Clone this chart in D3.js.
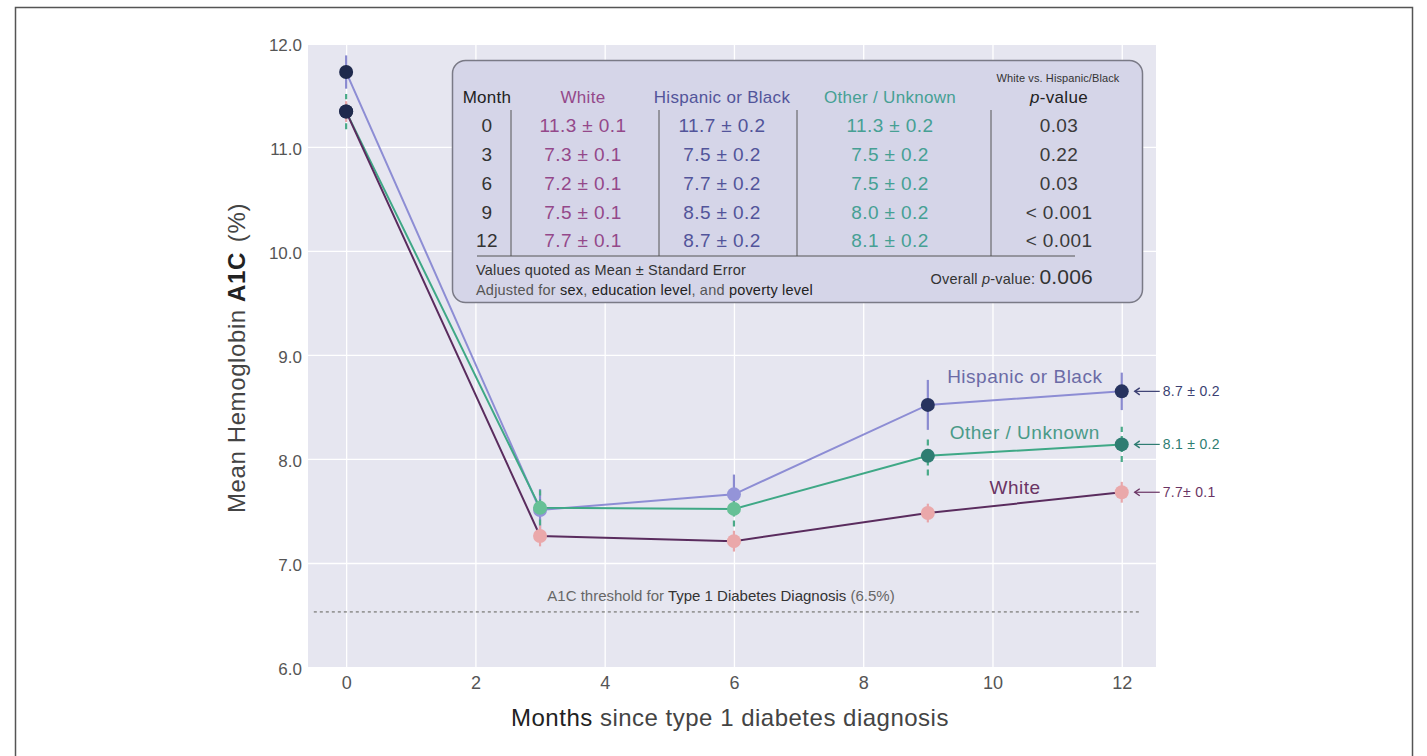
<!DOCTYPE html>
<html>
<head>
<meta charset="utf-8">
<script src="https://cdn.jsdelivr.net/npm/d3@7"></script>
<style>
  body { margin: 0; background: #fff; }
  svg { display: block; font-family: "Liberation Sans", Arial, sans-serif; }
</style>
</head>
<body>
<div id="chartContainer"></div>
<script>
// Data
const months = [0, 3, 6, 9, 12];
const whiteMean = [11.34, 7.26, 7.21, 7.48, 7.68];
const hispMean = [11.72, 7.51, 7.66, 8.52, 8.65];
const otherMean = [11.34, 7.53, 7.52, 8.03, 8.14];
const whiteErr = [0.1, 0.1, 0.1, 0.09, 0.1];
const hispErr = [0.16, 0.2, 0.19, 0.24, 0.18];
const otherErr = [0.17, 0.17, 0.17, 0.19, 0.17];
const threshold = 6.53;

const xTicks = [0, 2, 4, 6, 8, 10, 12];
const yTicks = [6, 7, 8, 9, 10, 11, 12];

// Table contents
const tableMonths = ["0", "3", "6", "9", "12"];
const tableWhite = ["11.3 ± 0.1", "7.3 ± 0.1", "7.2 ± 0.1", "7.5 ± 0.1", "7.7 ± 0.1"];
const tableHisp = ["11.7 ± 0.2", "7.5 ± 0.2", "7.7 ± 0.2", "8.5 ± 0.2", "8.7 ± 0.2"];
const tableOther = ["11.3 ± 0.2", "7.5 ± 0.2", "7.5 ± 0.2", "8.0 ± 0.2", "8.1 ± 0.2"];
const pValues = ["0.03", "0.22", "0.03", "< 0.001", "< 0.001"];
const overallP = "0.006";

const W = 1427, H = 756;

const svg = d3.select("#chartContainer")
    .append("svg")
    .attr("width", W)
    .attr("height", H);

// outer frame
svg.append("rect")
    .attr("x", 15.5).attr("y", 7.5)
    .attr("width", 1397).attr("height", 800)
    .attr("fill", "none")
    .attr("stroke", "#555")
    .attr("stroke-width", 1.5);

const x = d3.scaleLinear().domain([-0.59, 12.53]).range([308, 1156]);
const y = d3.scaleLinear().domain([6, 11.98]).range([667, 45]);

// plot background
svg.append("rect")
    .attr("x", x.range()[0]).attr("y", y.range()[1])
    .attr("width", x.range()[1] - x.range()[0])
    .attr("height", y.range()[0] - y.range()[1])
    .attr("fill", "#e6e6f0");

// gridlines
svg.append("g")
    .attr("transform", `translate(0,${y.range()[0]})`)
    .call(d3.axisBottom(x).tickValues(xTicks).tickSize(-(y.range()[0] - y.range()[1])).tickFormat(""))
    .call(g => g.select(".domain").remove())
    .call(g => g.selectAll(".tick line").attr("stroke", "#fff").attr("stroke-width", 1.3));

svg.append("g")
    .attr("transform", `translate(${x.range()[0]},0)`)
    .call(d3.axisLeft(y).tickValues(yTicks.filter(d => d < 11.98 && d > 6)).tickSize(-(x.range()[1] - x.range()[0])).tickFormat(""))
    .call(g => g.select(".domain").remove())
    .call(g => g.selectAll(".tick line").attr("stroke", "#fff").attr("stroke-width", 1.3));

// tick labels
svg.append("g")
    .attr("transform", `translate(${x.range()[0]},0)`)
    .call(d3.axisLeft(y).tickValues(yTicks).tickSize(0).tickPadding(6).tickFormat(d3.format(".1f")))
    .call(g => g.select(".domain").remove())
    .call(g => g.selectAll("text").attr("font-size", 17).attr("fill", "#555").attr("dy", "0.45em")
        .attr("font-family", "Liberation Sans, Arial, sans-serif"));

svg.append("g")
    .attr("transform", `translate(0,${y.range()[0]})`)
    .call(d3.axisBottom(x).tickValues(xTicks).tickSize(0).tickPadding(9))
    .call(g => g.select(".domain").remove())
    .call(g => g.selectAll("text").attr("font-size", 18).attr("fill", "#555")
        .attr("font-family", "Liberation Sans, Arial, sans-serif"));

// axis titles
const xTitle = svg.append("text")
    .attr("x", 730).attr("y", 726)
    .attr("text-anchor", "middle")
    .attr("font-size", 24)
    .attr("letter-spacing", 0.5)
    .attr("fill", "#444");
xTitle.append("tspan").attr("fill", "#222").text("Months");
xTitle.append("tspan").text(" since type 1 diabetes diagnosis");

const yTitle = svg.append("text")
    .attr("transform", "translate(245,358) rotate(-90)")
    .attr("text-anchor", "middle")
    .attr("font-size", 24)
    .attr("letter-spacing", 0.6)
    .attr("fill", "#444");
yTitle.append("tspan").text("Mean Hemoglobin ");
yTitle.append("tspan").attr("fill", "#222").attr("font-weight", "bold").text("A1C");
yTitle.append("tspan").attr("dx", 10).text("(%)");

// threshold line
svg.append("line")
    .attr("x1", x(-0.5)).attr("x2", x(12.3))
    .attr("y1", y(threshold)).attr("y2", y(threshold))
    .attr("stroke", "#999")
    .attr("stroke-width", 1.8)
    .attr("stroke-dasharray", "3,3");

const thText = svg.append("text")
    .attr("x", 721).attr("y", y(threshold) - 11)
    .attr("text-anchor", "middle")
    .attr("font-size", 15)
    .attr("fill", "#666");
thText.append("tspan").text("A1C threshold for ");
thText.append("tspan").attr("fill", "#333").text("Type 1 Diabetes Diagnosis");
thText.append("tspan").text(" (6.5%)");

// series styling
const series = [
    { name: "Hispanic or Black", mean: hispMean, err: hispErr,
      line: "#8d8dd4", bar: "#8a8ad0", dash: null,
      marker: ["#1f2a4d", "#9494d8", "#9494d8", "#27335f", "#27335f"],
      labelColor: "#6b6ba6", labelDy: -15, end: "8.7 ± 0.2", endColor: "#3b3f72" },
    { name: "Other / Unknown", mean: otherMean, err: otherErr,
      line: "#3fa886", bar: "#4aaa88", dash: "6,4",
      marker: ["#1f2a4d", "#66c096", "#66c096", "#2f7d72", "#2f7d72"],
      labelColor: "#4a9a88", labelDy: -11, end: "8.1 ± 0.2", endColor: "#2f7d72" },
    { name: "White", mean: whiteMean, err: whiteErr,
      line: "#5a2c5e", bar: "#e8a6aa", dash: null,
      marker: ["#1f2a4d", "#eaa8aa", "#eaa8aa", "#eaa8aa", "#eaa8aa"],
      labelColor: "#6a3464", labelDy: -9, labelX: 10.35, end: "7.7± 0.1", endColor: "#6a3464" }
];

const lineGen = d3.line()
    .x((d, i) => x(months[i]))
    .y(d => y(d));

// lines
series.forEach(s => {
    svg.append("path")
        .datum(s.mean)
        .attr("fill", "none")
        .attr("stroke", s.line)
        .attr("stroke-width", 2)
        .attr("d", lineGen);
});

// error bars
series.forEach(s => {
    svg.append("g").selectAll("line")
        .data(s.mean)
        .join("line")
        .attr("x1", (d, i) => x(months[i]))
        .attr("x2", (d, i) => x(months[i]))
        .attr("y1", (d, i) => y(d - s.err[i]))
        .attr("y2", (d, i) => y(d + s.err[i]))
        .attr("stroke", s.bar)
        .attr("stroke-width", 2.2)
        .attr("stroke-dasharray", s.dash);
});

// markers: draw Hispanic first, then White, then Other on top
[series[0], series[2], series[1]].forEach(s => {
    svg.append("g").selectAll("circle")
        .data(s.mean)
        .join("circle")
        .attr("cx", (d, i) => x(months[i]))
        .attr("cy", d => y(d))
        .attr("r", 7)
        .attr("fill", (d, i) => s.marker[i]);
});

// series labels over the last segment
series.forEach(s => {
    const mid = (y(s.mean[3]) + y(s.mean[4])) / 2;
    svg.append("text")
        .attr("x", x(s.labelX || 10.5)).attr("y", mid + s.labelDy)
        .attr("text-anchor", "middle")
        .attr("font-size", 19)
        .attr("letter-spacing", 0.5)
        .attr("fill", s.labelColor)
        .text(s.name);
});

// end value arrows
series.forEach(s => {
    const yy = y(s.mean[4]);
    const x0 = x(12) + 13, x1 = x(12) + 38;
    svg.append("line")
        .attr("x1", x0).attr("x2", x1)
        .attr("y1", yy).attr("y2", yy)
        .attr("stroke", s.endColor).attr("stroke-width", 1.2);
    svg.append("path")
        .attr("d", `M${x0 + 5},${yy - 3.5}L${x0},${yy}L${x0 + 5},${yy + 3.5}`)
        .attr("fill", "none")
        .attr("stroke", s.endColor).attr("stroke-width", 1.4);
    svg.append("text")
        .attr("x", x1 + 3).attr("y", yy + 5)
        .attr("font-size", 14)
        .attr("letter-spacing", 0.3)
        .attr("fill", s.endColor)
        .text(s.end);
});

// summary table
const tbl = svg.append("g");
tbl.append("rect")
    .attr("x", 452.5).attr("y", 60.5)
    .attr("width", 690).attr("height", 242)
    .attr("rx", 13)
    .attr("fill", "#d5d5e8")
    .attr("stroke", "#7a7a86")
    .attr("stroke-width", 1.5);

const cols = [
    { x: 487, head: "Month", color: "#222", vals: tableMonths },
    { x: 583, head: "White", color: "#94488a", vals: tableWhite },
    { x: 722, head: "Hispanic or Black", color: "#52549a", vals: tableHisp },
    { x: 890, head: "Other / Unknown", color: "#46a094", vals: tableOther },
    { x: 1059, head: "p-value", color: "#3a3a3a", vals: pValues }
];
const rowY = [125, 154, 183, 212, 240];

cols.forEach((c, ci) => {
    const h = tbl.append("text")
        .attr("x", c.x).attr("y", 103)
        .attr("text-anchor", "middle")
        .attr("font-size", 17)
        .attr("letter-spacing", 0.3)
        .attr("fill", ci === 4 ? "#222" : c.color);
    if (ci === 4) {
        h.append("tspan").attr("font-style", "italic").text("p");
        h.append("tspan").text("-value");
    } else {
        h.text(c.head);
    }
    tbl.selectAll(null)
        .data(c.vals)
        .join("text")
        .attr("x", c.x)
        .attr("y", (d, i) => rowY[i] + 6.5)
        .attr("text-anchor", "middle")
        .attr("font-size", 19)
        .attr("letter-spacing", 0.4)
        .attr("fill", ci === 0 ? "#333" : c.color)
        .text(d => d);
});

tbl.append("text")
    .attr("x", 1058).attr("y", 82)
    .attr("text-anchor", "middle")
    .attr("font-size", 11)
    .attr("letter-spacing", 0.1)
    .attr("fill", "#333")
    .text("White vs. Hispanic/Black");

[511, 659, 797, 991].forEach(cx => {
    tbl.append("line")
        .attr("x1", cx).attr("x2", cx)
        .attr("y1", 110).attr("y2", 256)
        .attr("stroke", "#555").attr("stroke-width", 1);
});
tbl.append("line")
    .attr("x1", 477).attr("x2", 1075)
    .attr("y1", 256).attr("y2", 256)
    .attr("stroke", "#555").attr("stroke-width", 1);

tbl.append("text")
    .attr("x", 476).attr("y", 275)
    .attr("font-size", 14.5)
    .attr("letter-spacing", 0.2)
    .attr("fill", "#333")
    .text("Values quoted as Mean ± Standard Error");

const adj = tbl.append("text")
    .attr("x", 476).attr("y", 295)
    .attr("font-size", 14.5)
    .attr("letter-spacing", 0.2)
    .attr("fill", "#555");
adj.append("tspan").text("Adjusted for ");
adj.append("tspan").attr("fill", "#222").text("sex");
adj.append("tspan").text(", ");
adj.append("tspan").attr("fill", "#222").text("education level");
adj.append("tspan").text(", and ");
adj.append("tspan").attr("fill", "#222").text("poverty level");

const ov = tbl.append("text")
    .attr("x", 1093).attr("y", 284)
    .attr("text-anchor", "end")
    .attr("font-size", 14.5)
    .attr("letter-spacing", 0.2)
    .attr("fill", "#333");
ov.append("tspan").text("Overall ");
ov.append("tspan").attr("font-style", "italic").text("p");
ov.append("tspan").text("-value: ");
ov.append("tspan").attr("font-size", 21).text(overallP);
</script>
</body>
</html>
